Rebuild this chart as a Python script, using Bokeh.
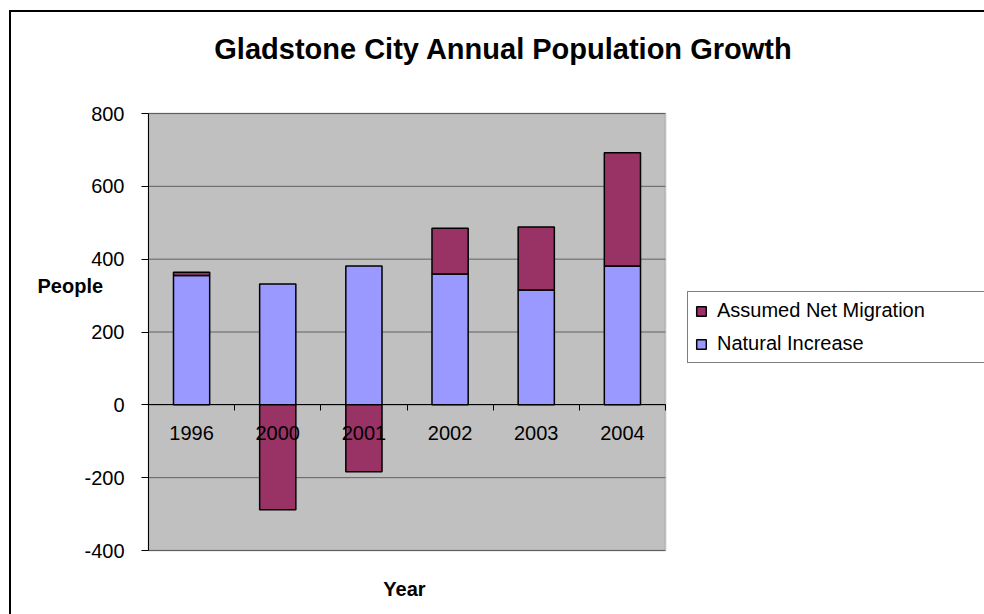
from bokeh.plotting import figure
from bokeh.models import (Range1d, LinearAxis, FixedTicker, Legend, LegendItem, Label,
                          BoxAnnotation, ColumnDataSource, InlineStyleSheet)
from bokeh.embed import file_html
from bokeh.resources import INLINE

# ---- data ----
years = ["1996", "2000", "2001", "2002", "2003", "2004"]
natural_increase = [355, 332, 381, 359, 315, 381]
net_migration = [9, -288, -184, 126, 173, 311]
y_ticks = [-400, -200, 0, 200, 400, 600, 800]

title_text = "Gladstone City Annual Population Growth"
x_title = "Year"
y_title = "People"
series_names = ["Assumed Net Migration", "Natural Increase"]

FONT = "Liberation Sans"

# ---- layout (pixels) ----
W, H = 984, 614
PLOT_L, PLOT_R, PLOT_T, PLOT_B = 148, 665, 113, 550

# category slots: category i occupies [i, i+1]
n = len(years)
centers = [i + 0.5 for i in range(n)]
bounds = list(range(n + 1))
y_min, y_max = y_ticks[0], y_ticks[-1]

# stacked layout: positive migration sits on top of natural increase,
# negative migration hangs below zero
nat_bottom = [0 for _ in years]
mig_bottom = [a if m > 0 else 0 for a, m in zip(natural_increase, net_migration)]
mig_top = [a + m if m > 0 else m for a, m in zip(natural_increase, net_migration)]

src = ColumnDataSource(dict(x=centers, year=years, nat_bottom=nat_bottom,
                            nat_top=natural_increase,
                            mig_bottom=mig_bottom, mig_top=mig_top))

# the frame covers the whole canvas; ranges are widened so that the
# plot area [0, n] x [y_min, y_max] lands at PLOT_L..PLOT_R, PLOT_T..PLOT_B
ppx = (PLOT_R - PLOT_L) / n
ppy = (PLOT_B - PLOT_T) / (y_max - y_min)
x_range = Range1d(-PLOT_L / ppx, (W - PLOT_L) / ppx)
y_range = Range1d(y_min - (H - PLOT_B) / ppy, y_max + PLOT_T / ppy)

p = figure(width=W, height=H, x_range=x_range, y_range=y_range,
           x_axis_location=None, y_axis_location=None,
           output_backend="svg", toolbar_location=None,
           min_border=0, min_border_left=0, min_border_right=0,
           min_border_top=0, min_border_bottom=0,
           background_fill_color="white", border_fill_color="white",
           outline_line_color=None)
p.grid.visible = False

# plot area background
p.add_layout(BoxAnnotation(left=0, right=n, bottom=y_min, top=y_max,
                           fill_color="#C0C0C0", fill_alpha=1.0,
                           line_color="#808080", line_width=2, level="underlay"))

# horizontal gridlines
p.segment(x0=[0] * len(y_ticks), x1=[n] * len(y_ticks), y0=y_ticks, y1=y_ticks,
          line_color="#606060", line_width=1)

# bars
r_nat = p.vbar(x="x", bottom="nat_bottom", top="nat_top", width=0.42, source=src,
               fill_color="#9999FF", line_color="black", line_width=1.5)
r_mig = p.vbar(x="x", bottom="mig_bottom", top="mig_top", width=0.42, source=src,
               fill_color="#993366", line_color="black", line_width=1.5)

# value axis
y_axis = LinearAxis(fixed_location=0, bounds=(y_min, y_max),
                    ticker=FixedTicker(ticks=y_ticks),
                    major_label_overrides={t: str(t) for t in y_ticks},
                    axis_line_color="black", major_tick_line_color="black",
                    major_tick_out=7, major_tick_in=0, minor_tick_line_color=None,
                    major_label_standoff=17,
                    major_label_text_font=FONT, major_label_text_font_size="20px",
                    major_label_text_color="black")
p.add_layout(y_axis, "left")

# category axis crossing at zero: line + tick marks between categories
tick_axis = LinearAxis(fixed_location=0, bounds=(0, n),
                       ticker=FixedTicker(ticks=bounds),
                       major_label_text_color=None,
                       major_tick_out=6, major_tick_in=0,
                       minor_tick_line_color=None,
                       axis_line_color="black", major_tick_line_color="black")
p.add_layout(tick_axis, "below")

# category labels under the zero line
cat_axis = LinearAxis(fixed_location=0,
                      ticker=FixedTicker(ticks=centers),
                      major_label_overrides={c: y for c, y in zip(centers, years)},
                      major_tick_line_color=None, major_tick_out=0, major_tick_in=0,
                      minor_tick_line_color=None, axis_line_color=None,
                      major_label_standoff=21,
                      major_label_text_font=FONT, major_label_text_font_size="20px",
                      major_label_text_color="black")
p.add_layout(cat_axis, "below")

# legend
legend = Legend(items=[LegendItem(label=series_names[0], renderers=[r_mig]),
                       LegendItem(label=series_names[1], renderers=[r_nat])],
                location=(687, H - 363),
                label_text_font=FONT, label_text_font_size="20px",
                label_text_color="black",
                glyph_width=12, glyph_height=12,
                label_height=22, label_standoff=10, label_width=300,
                spacing=10, padding=7, margin=0,
                border_line_color="black", border_line_width=1,
                background_fill_color="white", background_fill_alpha=1.0)
p.add_layout(legend)

# texts
p.add_layout(Label(x=503, y=48, x_units="canvas", y_units="canvas", text=title_text,
                   text_align="center", text_baseline="middle",
                   text_font=FONT, text_font_size="29px", text_font_style="bold",
                   text_color="black"))
p.add_layout(Label(x=37, y=285, x_units="canvas", y_units="canvas", text=y_title,
                   text_align="left", text_baseline="middle",
                   text_font=FONT, text_font_size="20px", text_font_style="bold",
                   text_color="black"))
p.add_layout(Label(x=404, y=588, x_units="canvas", y_units="canvas", text=x_title,
                   text_align="center", text_baseline="middle",
                   text_font=FONT, text_font_size="20px", text_font_style="bold",
                   text_color="black"))

# outer chart border (left and top edges are the only visible ones)
p.stylesheets = [InlineStyleSheet(css="""
:host { position: relative; }
:host::after { content: ''; position: absolute; left: 9px; top: 10px; right: 0; bottom: 0;
  border-left: 2px solid #000; border-top: 2px solid #000; pointer-events: none; }
""")]

open("out.html", "w").write(file_html(p, INLINE))
